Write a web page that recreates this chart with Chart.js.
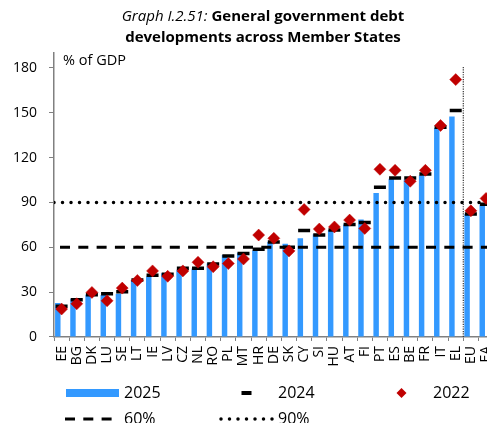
<!DOCTYPE html>
<html>
<head>
<meta charset="utf-8">
<script src="https://cdn.jsdelivr.net/npm/chart.js@4.4.1/dist/chart.umd.min.js"></script>
<style>
  html, body { margin: 0; padding: 0; background: #fff; overflow: hidden; }
  #wrap { position: relative; width: 487px; height: 423px; overflow: hidden; }
  #chart { position: absolute; left: 0; top: 0; }
  #title {
    position: absolute; left: 0; top: 5px; width: 526px;
    text-align: center; font-family: "Open Sans", sans-serif;
    font-size: 15px; line-height: 21px; color: #000;
  }
  #title i { font-weight: 400; }
  #title b { font-weight: 700; }
</style>
</head>
<body>
<div id="wrap">
  <canvas id="chart" width="508" height="423"></canvas>
  <div id="title"><i>Graph I.2.51:</i> <b>General government debt<br>developments across Member States</b></div>
</div>
<script>
const countries = ['EE', 'BG', 'DK', 'LU', 'SE', 'LT', 'IE', 'LV', 'CZ', 'NL', 'RO', 'PL', 'MT', 'HR', 'DE',
  'SK', 'CY', 'SI', 'HU', 'AT', 'FI', 'PT', 'ES', 'BE', 'FR', 'IT', 'EL', 'EU', 'EA'];

const debt2025 = [22.7, 25.5, 28.2, 28.0, 29.0, 38.2, 40.4, 42.6, 45.0, 45.8, 49.1, 54.8, 56.4, 57.8, 63.5,
  62.3, 66.0, 68.7, 71.5, 75.3, 78.6, 96.4, 105.8, 105.3, 108.2, 139.8, 147.5, 82.2, 88.7];

const debt2024 = [20.6, 24.9, 28.2, 28.9, 30.2, 38.2, 41.3, 42.0, 46.0, 46.0, 48.8, 54.2, 55.8, 58.7, 63.5,
  60.0, 71.3, 68.2, 71.5, 75.3, 76.6, 100.2, 106.4, 106.4, 109.1, 140.4, 151.5, 82.2, 88.8];

const debt2022 = [18.7, 22.2, 29.8, 24.2, 32.7, 37.8, 44.2, 40.6, 44.2, 50.0, 47.0, 49.1, 52.2, 68.2, 66.0,
  57.6, 85.3, 72.2, 73.6, 78.2, 72.6, 112.2, 111.5, 104.2, 111.5, 141.5, 172.2, 84.4, 92.7];

const yTicks = [0, 30, 60, 90, 120, 150, 180];
const refLevel60 = 60;
const refLevel90 = 90;
const separatorAfter = 'EL';   // EU aggregates are split off after this one

const FONT = '"Open Sans", sans-serif';
const BLUE = '#3399ff';
const RED = '#c00000';

const lastIdx = countries.length - 1;
const sepX = countries.indexOf(separatorAfter) + 0.5;

// legend drawn in a fixed grid, like the original
const gridLegend = {
  id: 'gridLegend',
  afterDraw(chart, args, opts) {
    const ctx = chart.ctx;
    ctx.save();
    ctx.font = '16px ' + FONT;
    ctx.textBaseline = 'middle';
    chart.data.datasets.forEach((ds) => {
      if (!ds.slot) return;
      const x = opts.cols[ds.slot[0]];
      const y = opts.rows[ds.slot[1]];
      const w = opts.boxWidth;
      ctx.save();
      if (ds.type === 'bar') {
        ctx.fillStyle = ds.backgroundColor;
        ctx.fillRect(x, y - 4, w, 8);
      } else if (ds.pointStyle === 'line') {
        ctx.fillStyle = ds.pointBorderColor;
        ctx.fillRect(x + w / 2 - 5, y - 2, 10, 4);
      } else if (ds.pointStyle === 'rectRot') {
        ctx.fillStyle = ds.pointBackgroundColor;
        ctx.beginPath();
        ctx.moveTo(x + w / 2 - 5, y);
        ctx.lineTo(x + w / 2, y - 5);
        ctx.lineTo(x + w / 2 + 5, y);
        ctx.lineTo(x + w / 2, y + 5);
        ctx.closePath();
        ctx.fill();
      } else {
        ctx.strokeStyle = ds.borderColor;
        ctx.lineWidth = ds.borderWidth;
        ctx.lineCap = ds.borderCapStyle || 'butt';
        ctx.setLineDash(ds.borderDash || []);
        ctx.beginPath();
        ctx.moveTo(x + (ds.borderCapStyle === 'round' ? 1 : -1), y);
        ctx.lineTo(x + w, y);
        ctx.stroke();
      }
      ctx.restore();
      ctx.fillStyle = '#000';
      ctx.fillText(ds.label, x + w + 5, y);
    });
    ctx.restore();
  }
};

const unitLabel = {
  id: 'unitLabel',
  afterDraw(chart) {
    const ctx = chart.ctx;
    const y = chart.scales.y.getPixelForValue(180) - 2.5;
    ctx.save();
    ctx.font = '14.5px ' + FONT;
    ctx.fillStyle = '#000';
    ctx.textBaseline = 'alphabetic';
    ctx.fillText('% of GDP', chart.chartArea.left + 9, y);
    ctx.restore();
  }
};

const levelLine = (v) => [{ x: -0.5, y: v }, { x: lastIdx + 0.5, y: v }];

new Chart(document.getElementById('chart'), {
  data: {
    labels: countries,
    datasets: [
      {
        type: 'line',
        label: '2022',
        data: debt2022,
        showLine: false,
        pointStyle: 'rectRot',
        pointRadius: 6,
        pointBackgroundColor: RED,
        pointBorderColor: RED,
        pointBorderWidth: 0.5,
        order: 1,
        slot: [2, 0]
      },
      {
        type: 'line',
        label: '2024',
        data: debt2024,
        showLine: false,
        pointStyle: 'line',
        pointRadius: 6,
        pointBorderWidth: 3.5,
        pointBorderColor: '#000',
        order: 2,
        slot: [1, 0]
      },
      {
        type: 'line',
        label: '60%',
        xAxisID: 'xl',
        data: levelLine(refLevel60),
        borderColor: '#000',
        borderWidth: 3,
        borderDash: [10, 8.3],
        borderDashOffset: -6,
        pointRadius: 0,
        order: 3,
        slot: [0, 1]
      },
      {
        type: 'line',
        label: '90%',
        xAxisID: 'xl',
        data: levelLine(refLevel90),
        borderColor: '#000',
        borderWidth: 3.5,
        borderDash: [0, 8.5],
        borderCapStyle: 'round',
        pointRadius: 0,
        order: 3,
        slot: [1, 1]
      },
      {
        type: 'line',
        label: 'separator',
        xAxisID: 'xl',
        data: [{ x: sepX, y: 0 }, { x: sepX, y: 181.5 }],
        borderColor: '#333',
        borderWidth: 1.2,
        borderDash: [1.2, 1.2],
        pointRadius: 0,
        order: 3
      },
      {
        type: 'bar',
        label: '2025',
        data: debt2025,
        backgroundColor: BLUE,
        barPercentage: 0.72,
        categoryPercentage: 1,
        order: 4,
        slot: [0, 0]
      }
    ]
  },
  options: {
    responsive: false,
    animation: false,
    events: [],
    layout: {
      padding: { top: 53, left: 1, right: 0, bottom: 51.5 }
    },
    scales: {
      x: {
        type: 'category',
        offset: true,
        grid: { drawOnChartArea: false, tickLength: 4, color: '#808080', offset: true },
        border: { color: '#808080', width: 1.5 },
        ticks: {
          autoSkip: false,
          minRotation: 90,
          maxRotation: 90,
          padding: 5,
          color: '#000',
          font: { family: FONT, size: 14 }
        }
      },
      xl: {
        type: 'linear',
        display: false,
        min: -0.5,
        max: lastIdx + 0.5
      },
      y: {
        min: 0,
        max: 190,
        afterBuildTicks: (scale) => {
          scale.ticks = yTicks.map((v) => ({ value: v }));
        },
        grid: { drawOnChartArea: false, tickLength: 5, color: '#808080' },
        border: { color: '#808080', width: 1.5 },
        ticks: {
          padding: 12,
          color: '#000',
          font: { family: FONT, size: 14 }
        }
      }
    },
    plugins: {
      legend: { display: false },
      tooltip: { enabled: false },
      gridLegend: {
        cols: [66, 220, 375],
        rows: [393, 419],
        boxWidth: 53
      }
    }
  },
  plugins: [gridLegend, unitLabel]
});
</script>
</body>
</html>
